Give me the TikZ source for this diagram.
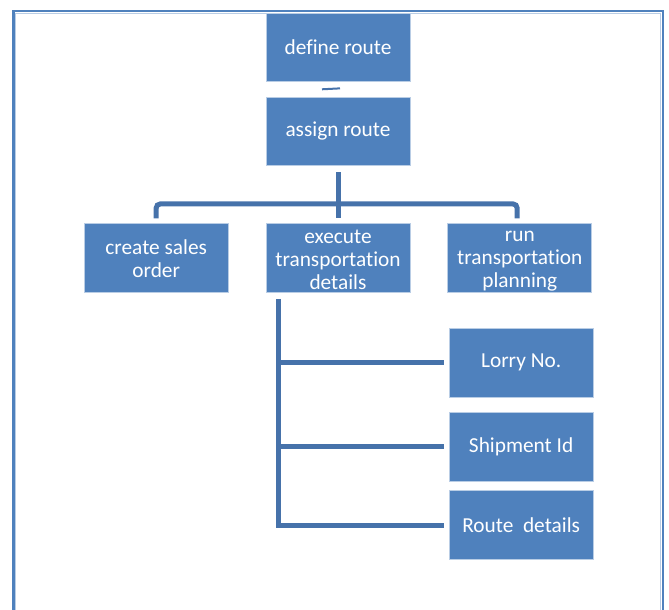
\documentclass[tikz,border=0pt]{standalone}
\usepackage{fontspec}
\setmainfont{Carlito}[Ligatures=NoCommon]
\usepackage{xcolor}
\usetikzlibrary{positioning}

\definecolor{boxblue}{RGB}{79,129,189}
\definecolor{boxedge}{RGB}{185,205,229}
\definecolor{linkblue}{RGB}{70,114,170}

\begin{document}
\begin{tikzpicture}[x=0.75pt, y=-0.75pt,
    box/.style={rectangle, fill=boxblue, draw=boxedge, line width=0.6pt,
        text=white, align=center, minimum width=108pt, minimum height=51.5pt,
        inner sep=0pt, font=\fontsize{16}{17.25}\selectfont},
    link/.style={draw=linkblue, line width=3.75pt},
    frame/.style={draw=boxblue, line width=1.6pt}]
        \useasboundingbox (0,0) rectangle (669,610);
        \draw[frame] (13.5,610) -- (13.5,11) -- (663,11) -- (663,610);
        \draw[boxedge, line width=0.8pt] (15.6,610) -- (15.6,13.1) -- (660.9,13.1) -- (660.9,610);

        \node[box] (define) at (338,47.5) {define route};
        \node[box] (assign) [below = 10.8pt of define] {assign route};

        \node[box] (exec) [below = 43pt of assign] {\strut execute\\transportation\\details};
        \node[box] (create) [left = 27.75pt of exec] {\strut create sales\\order};
        \node[box] (run) [right = 27.75pt of exec] {\strut run\\transportation\\planning};

        \node[box] (lorry) [below = 26.3pt of run, xshift=1pt] {Lorry No.};
        \node[box] (ship) [below = 11pt of lorry] {Shipment Id};
        \node[box] (route) [below = 6.6pt of ship] {Route~~details};

        % define -> assign
        \draw[link, line width=1.5pt] ([xshift=-12pt,yshift=5.5pt]assign.north) -- ([xshift=1.5pt,yshift=6.2pt]assign.north);

        % assign -> second row
        \draw[link] ([yshift=-4.5pt]assign.south) -- ([yshift=3.75pt]exec.north);
        \draw[link, rounded corners=3pt] ([yshift=3.75pt]create.north) |- ([yshift=14.6pt]exec.north) -| ([xshift=-2pt,yshift=3.75pt]run.north);

        % execute -> details
        \coordinate (trunk) at ([xshift=9.4pt,yshift=-4.5pt]exec.south west);
        \draw[link] (trunk) |- ([xshift=-3.75pt]route.west);
        \draw[link] (trunk |- lorry.west) -- ([xshift=-3.75pt]lorry.west);
        \draw[link] (trunk |- ship.west) -- ([xshift=-3.75pt]ship.west);
    \end{tikzpicture}
\end{document}
